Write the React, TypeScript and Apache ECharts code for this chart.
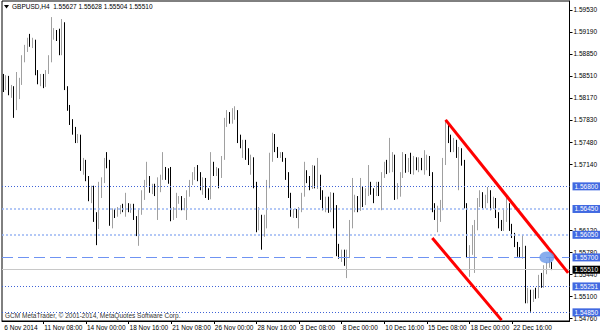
import React, { useEffect, useRef } from "react";
import * as echarts from "echarts";

const symbolName = "GBPUSD,H4";

const opens = [
  1.5848, 1.5832, 1.5848, 1.5826, 1.5832, 1.5801, 1.5820, 1.5841, 1.5876, 1.5894,
  1.5903, 1.5899, 1.5903, 1.5855, 1.5845, 1.5851, 1.5838, 1.5857, 1.5879, 1.5913,
  1.5919, 1.5910, 1.5891, 1.5928, 1.5832, 1.5801, 1.5780, 1.5764, 1.5752, 1.5756,
  1.5708, 1.5719, 1.5693, 1.5662, 1.5677, 1.5631, 1.5619, 1.5677, 1.5690, 1.5718,
  1.5713, 1.5625, 1.5640, 1.5636, 1.5643, 1.5648, 1.5643, 1.5651, 1.5643, 1.5650,
  1.5631, 1.5609, 1.5643, 1.5667, 1.5687, 1.5693, 1.5674, 1.5681, 1.5671, 1.5679,
  1.5694, 1.5705, 1.5696, 1.5687, 1.5631, 1.5637, 1.5659, 1.5662, 1.5648, 1.5659,
  1.5667, 1.5687, 1.5696, 1.5705, 1.5693, 1.5682, 1.5690, 1.5665, 1.5664, 1.5702,
  1.5699, 1.5705, 1.5696, 1.5724, 1.5777, 1.5786, 1.5780, 1.5792, 1.5795, 1.5752,
  1.5744, 1.5749, 1.5729, 1.5718, 1.5721, 1.5682, 1.5615, 1.5628, 1.5609, 1.5625,
  1.5682, 1.5721, 1.5755, 1.5736, 1.5727, 1.5730, 1.5722, 1.5694, 1.5667, 1.5637,
  1.5642, 1.5637, 1.5645, 1.5667, 1.5698, 1.5690, 1.5679, 1.5693, 1.5681, 1.5693,
  1.5662, 1.5646, 1.5659, 1.5643, 1.5665, 1.5620, 1.5578, 1.5572, 1.5577, 1.5563,
  1.5574, 1.5620, 1.5651, 1.5662, 1.5646, 1.5674, 1.5659, 1.5671, 1.5682, 1.5671,
  1.5668, 1.5684, 1.5670, 1.5698, 1.5713, 1.5704, 1.5716, 1.5724, 1.5662, 1.5681,
  1.5698, 1.5725, 1.5705, 1.5721, 1.5702, 1.5721, 1.5710, 1.5721, 1.5712, 1.5721,
  1.5724, 1.5699, 1.5646, 1.5634, 1.5643, 1.5654, 1.5718, 1.5770, 1.5752, 1.5739,
  1.5747, 1.5729, 1.5736, 1.5716, 1.5651, 1.5572, 1.5582, 1.5612, 1.5615, 1.5656,
  1.5668, 1.5651, 1.5662, 1.5671, 1.5646, 1.5659, 1.5636, 1.5620, 1.5614, 1.5640,
  1.5651, 1.5615, 1.5603, 1.5589, 1.5583, 1.5572, 1.5585, 1.5504, 1.5515, 1.5507,
  1.5515, 1.5510, 1.5535, 1.5526, 1.5554, 1.5561, 1.55627,
];

const highs = [
  1.5854, 1.5852, 1.5851, 1.5837, 1.5835, 1.5857, 1.5848, 1.5883, 1.5899, 1.5910,
  1.5916, 1.5910, 1.5907, 1.5860, 1.5854, 1.5854, 1.5860, 1.5883, 1.5942, 1.5925,
  1.5922, 1.5924, 1.5939, 1.5934, 1.5835, 1.5806, 1.5784, 1.5772, 1.5761, 1.5760,
  1.5724, 1.5721, 1.5696, 1.5681, 1.5681, 1.5640, 1.5687, 1.5694, 1.5724, 1.5733,
  1.5721, 1.5646, 1.5645, 1.5648, 1.5651, 1.5653, 1.5670, 1.5654, 1.5653, 1.5653,
  1.5634, 1.5646, 1.5674, 1.5690, 1.5718, 1.5696, 1.5684, 1.5684, 1.5694, 1.5698,
  1.5733, 1.5710, 1.5708, 1.5710, 1.5648, 1.5670, 1.5665, 1.5665, 1.5662, 1.5674,
  1.5690, 1.5702, 1.5710, 1.5713, 1.5702, 1.5694, 1.5693, 1.5677, 1.5733, 1.5718,
  1.5710, 1.5708, 1.5727, 1.5786, 1.5798, 1.5795, 1.5801, 1.5804, 1.5798, 1.5760,
  1.5752, 1.5752, 1.5739, 1.5729, 1.5725, 1.5687, 1.5648, 1.5636, 1.5636, 1.5690,
  1.5732, 1.5763, 1.5761, 1.5741, 1.5733, 1.5733, 1.5724, 1.5702, 1.5670, 1.5645,
  1.5645, 1.5648, 1.5670, 1.5718, 1.5705, 1.5696, 1.5713, 1.5712, 1.5724, 1.5698,
  1.5674, 1.5664, 1.5664, 1.5671, 1.5670, 1.5651, 1.5591, 1.5582, 1.5582, 1.5582,
  1.5628, 1.5693, 1.5667, 1.5665, 1.5693, 1.5679, 1.5677, 1.5713, 1.5687, 1.5677,
  1.5687, 1.5687, 1.5702, 1.5718, 1.5721, 1.5755, 1.5733, 1.5729, 1.5685, 1.5702,
  1.5733, 1.5730, 1.5724, 1.5732, 1.5727, 1.5725, 1.5725, 1.5724, 1.5736, 1.5729,
  1.5727, 1.5702, 1.5654, 1.5650, 1.5659, 1.5724, 1.5783, 1.5775, 1.5760, 1.5755,
  1.5752, 1.5741, 1.5739, 1.5721, 1.5654, 1.5589, 1.5620, 1.5628, 1.5662, 1.5674,
  1.5671, 1.5667, 1.5679, 1.5674, 1.5664, 1.5662, 1.5640, 1.5628, 1.5646, 1.5662,
  1.5654, 1.5622, 1.5608, 1.5594, 1.5586, 1.5605, 1.5588, 1.5523, 1.5520, 1.5520,
  1.5523, 1.5543, 1.5546, 1.5558, 1.5563, 1.5571, 1.55628,
];

const lows = [
  1.5826, 1.5829, 1.5821, 1.5817, 1.5786, 1.5798, 1.5815, 1.5837, 1.5872, 1.5888,
  1.5896, 1.5894, 1.5852, 1.5838, 1.5835, 1.5832, 1.5834, 1.5854, 1.5872, 1.5907,
  1.5905, 1.5883, 1.5883, 1.5829, 1.5797, 1.5775, 1.5760, 1.5747, 1.5747, 1.5704,
  1.5698, 1.5688, 1.5657, 1.5654, 1.5625, 1.5589, 1.5614, 1.5662, 1.5685, 1.5708,
  1.5619, 1.5615, 1.5631, 1.5633, 1.5637, 1.5640, 1.5633, 1.5640, 1.5639, 1.5628,
  1.5603, 1.5588, 1.5636, 1.5659, 1.5681, 1.5670, 1.5668, 1.5665, 1.5628, 1.5671,
  1.5690, 1.5690, 1.5684, 1.5626, 1.5628, 1.5631, 1.5653, 1.5643, 1.5643, 1.5628,
  1.5664, 1.5682, 1.5690, 1.5688, 1.5674, 1.5667, 1.5662, 1.5659, 1.5660, 1.5696,
  1.5696, 1.5677, 1.5693, 1.5721, 1.5772, 1.5777, 1.5777, 1.5783, 1.5747, 1.5739,
  1.5724, 1.5721, 1.5713, 1.5698, 1.5677, 1.5609, 1.5612, 1.5582, 1.5602, 1.5615,
  1.5677, 1.5718, 1.5733, 1.5724, 1.5724, 1.5718, 1.5690, 1.5662, 1.5633, 1.5631,
  1.5631, 1.5615, 1.5640, 1.5664, 1.5685, 1.5674, 1.5676, 1.5677, 1.5676, 1.5659,
  1.5643, 1.5640, 1.5639, 1.5640, 1.5615, 1.5572, 1.5568, 1.5563, 1.5557, 1.5538,
  1.5569, 1.5615, 1.5640, 1.5640, 1.5642, 1.5648, 1.5651, 1.5665, 1.5667, 1.5654,
  1.5665, 1.5665, 1.5643, 1.5693, 1.5699, 1.5701, 1.5702, 1.5659, 1.5660, 1.5664,
  1.5693, 1.5701, 1.5702, 1.5699, 1.5698, 1.5705, 1.5702, 1.5705, 1.5698, 1.5705,
  1.5696, 1.5640, 1.5628, 1.5609, 1.5625, 1.5643, 1.5713, 1.5747, 1.5733, 1.5733,
  1.5724, 1.5674, 1.5712, 1.5646, 1.5569, 1.5540, 1.5574, 1.5546, 1.5612, 1.5648,
  1.5646, 1.5646, 1.5654, 1.5643, 1.5645, 1.5631, 1.5615, 1.5611, 1.5611, 1.5625,
  1.5611, 1.5600, 1.5586, 1.5571, 1.5569, 1.5568, 1.5499, 1.5499, 1.5486, 1.5501,
  1.5506, 1.5507, 1.5523, 1.5523, 1.5544, 1.5554, 1.55504,
];

const closes = [
  1.5832, 1.5848, 1.5826, 1.5832, 1.5801, 1.5820, 1.5841, 1.5876, 1.5894, 1.5903,
  1.5899, 1.5903, 1.5855, 1.5845, 1.5851, 1.5838, 1.5857, 1.5879, 1.5913, 1.5919,
  1.5910, 1.5891, 1.5928, 1.5832, 1.5801, 1.5780, 1.5764, 1.5752, 1.5756, 1.5708,
  1.5719, 1.5693, 1.5662, 1.5677, 1.5631, 1.5619, 1.5677, 1.5690, 1.5718, 1.5713,
  1.5625, 1.5640, 1.5636, 1.5643, 1.5648, 1.5643, 1.5651, 1.5643, 1.5650, 1.5631,
  1.5609, 1.5643, 1.5667, 1.5687, 1.5693, 1.5674, 1.5681, 1.5671, 1.5679, 1.5694,
  1.5705, 1.5696, 1.5687, 1.5631, 1.5637, 1.5659, 1.5662, 1.5648, 1.5659, 1.5667,
  1.5687, 1.5696, 1.5705, 1.5693, 1.5682, 1.5690, 1.5665, 1.5664, 1.5702, 1.5699,
  1.5705, 1.5696, 1.5724, 1.5777, 1.5786, 1.5780, 1.5792, 1.5795, 1.5752, 1.5744,
  1.5749, 1.5729, 1.5718, 1.5721, 1.5682, 1.5615, 1.5628, 1.5609, 1.5625, 1.5682,
  1.5721, 1.5755, 1.5736, 1.5727, 1.5730, 1.5722, 1.5694, 1.5667, 1.5637, 1.5642,
  1.5637, 1.5645, 1.5667, 1.5698, 1.5690, 1.5679, 1.5693, 1.5681, 1.5693, 1.5662,
  1.5646, 1.5659, 1.5643, 1.5665, 1.5620, 1.5578, 1.5572, 1.5577, 1.5563, 1.5574,
  1.5620, 1.5651, 1.5662, 1.5646, 1.5674, 1.5659, 1.5671, 1.5682, 1.5671, 1.5668,
  1.5684, 1.5670, 1.5698, 1.5713, 1.5704, 1.5716, 1.5724, 1.5662, 1.5681, 1.5698,
  1.5725, 1.5705, 1.5721, 1.5702, 1.5721, 1.5710, 1.5721, 1.5712, 1.5721, 1.5724,
  1.5699, 1.5646, 1.5634, 1.5643, 1.5654, 1.5718, 1.5770, 1.5752, 1.5739, 1.5747,
  1.5729, 1.5736, 1.5716, 1.5651, 1.5572, 1.5582, 1.5612, 1.5615, 1.5656, 1.5668,
  1.5651, 1.5662, 1.5671, 1.5646, 1.5659, 1.5636, 1.5620, 1.5614, 1.5640, 1.5651,
  1.5615, 1.5603, 1.5589, 1.5583, 1.5572, 1.5585, 1.5504, 1.5515, 1.5507, 1.5515,
  1.5510, 1.5535, 1.5526, 1.5554, 1.5561, 1.5563, 1.5551,
];

const chartShiftBars = 6;
const timeTickIndex = [0, 15, 31, 47, 63, 79, 95, 111, 127, 143, 159, 175, 191];
const timeTickLabels = [
  "6 Nov 2014", "11 Nov 08:00", "14 Nov 00:00", "18 Nov 16:00", "21 Nov 08:00",
  "26 Nov 00:00", "28 Nov 16:00", "3 Dec 08:00", "8 Dec 00:00", "10 Dec 16:00",
  "15 Dec 08:00", "18 Dec 00:00", "22 Dec 16:00",
];
const priceTickValues = [
  1.5953, 1.5919, 1.5885, 1.5851, 1.5817, 1.5783, 1.5748, 1.5714,
  1.5612, 1.5578, 1.5544, 1.551, 1.5476,
];
const priceMin = 1.54716;
const priceMax = 1.59669;
const strongLevels = [1.568, 1.55251, 1.5485];
const softLevels = [1.5645, 1.5605];
const dashedLevel = 1.557;
const upperChannel = [[166, 1.5783], [212, 1.5546]];
const lowerChannel = [[161, 1.56], [187, 1.5473]];
const markerPoint = [204, 1.557];
const copyrightText = "GCM MetaTrader, \u00a9 2001-2014, MetaQuotes Software Corp.";

export default function App() {
  const ref = useRef<HTMLDivElement>(null);
  useEffect(() => {
    const chart = echarts.init(ref.current as HTMLDivElement, null, { renderer: "svg" });
    const n = opens.length;
    const last = n - 1;
    const categories = Array.from({ length: n + chartShiftBars }, (_, i) => String(i));
    const candles = opens.map((o, i) => [o, closes[i], lows[i], highs[i]]);
    const bid = closes[last];
    const font = "'Liberation Sans', Arial, sans-serif";
    const fs = 6.5;
    const boxLabel = (bg: string) => ({
      show: true,
      position: "end",
      distance: 3,
      formatter: (p: any) => Number(p.value).toFixed(5),
      backgroundColor: bg,
      color: "#fff",
      fontSize: fs,
      fontFamily: font,
      padding: [1, 2, 0, 2],
      lineHeight: 7,
    });
    const header =
      symbolName + "  " +
      [opens[last], highs[last], lows[last], closes[last]].map((v) => v.toFixed(5)).join(" ");

    const option: any = {
      animation: false,
      backgroundColor: "#fff",
      grid: { left: 2, right: 29, top: 1, bottom: 12, show: true, borderColor: "#000", borderWidth: 1 },
      xAxis: {
        type: "category",
        data: categories,
        boundaryGap: true,
        axisLine: { show: true, lineStyle: { color: "#000", width: 1 } },
        axisTick: {
          show: true,
          alignWithLabel: true,
          length: 3,
          interval: (index: number) => index > 0 && timeTickIndex.includes(index),
          lineStyle: { color: "#000" },
        },
        axisLabel: {
          interval: (index: number) => timeTickIndex.includes(index),
          formatter: (_v: string, idx: number) => {
            const k = timeTickIndex.indexOf(idx);
            return k >= 0 ? timeTickLabels[k] : "";
          },
          align: "left",
          padding: [0, 0, 0, 1],
          margin: 3,
          fontSize: fs,
          fontFamily: font,
          color: "#000",
        },
        splitLine: { show: false },
      },
      yAxis: {
        type: "value",
        position: "right",
        min: priceMin,
        max: priceMax,
        scale: true,
        splitLine: { show: false },
        axisLine: { show: true, lineStyle: { color: "#000", width: 1 } },
        axisTick: { show: true, length: 3, customValues: priceTickValues, lineStyle: { color: "#000" } },
        axisLabel: {
          customValues: priceTickValues,
          formatter: (v: number) => v.toFixed(5),
          fontSize: fs,
          fontFamily: font,
          color: "#000",
          margin: 4,
        },
      },
      graphic: [
        { type: "polygon", shape: { points: [[4, 5], [9, 5], [6.5, 8.5]] }, style: { fill: "#000" } },
        {
          type: "text",
          left: 12,
          top: 3,
          style: { text: header, fill: "#000", font: `${fs}px ${font}` },
        },
        {
          type: "text",
          left: 5,
          top: 312,
          style: { text: copyrightText, fill: "#333", font: `${fs}px ${font}` },
        },
      ],
      series: [
        {
          type: "candlestick",
          data: candles,
          barWidth: 1,
          itemStyle: {
            color: "#a0a0a0",
            color0: "#000",
            borderColor: "#a0a0a0",
            borderColor0: "#000",
            borderWidth: 1,
          },
          markLine: {
            silent: true,
            animation: false,
            precision: 5,
            symbol: ["none", "none"],
            data: [
              ...strongLevels.map((v) => ({
                yAxis: v,
                lineStyle: { color: "#3f63d6", type: [1, 2], width: 1 },
                label: boxLabel("#4169e1"),
              })),
              ...softLevels.map((v) => ({
                yAxis: v,
                lineStyle: { color: "#9bb6f4", type: [2, 2], width: 1.6 },
                label: boxLabel("#4169e1"),
              })),
              {
                yAxis: dashedLevel,
                lineStyle: { color: "#6f93f2", type: [11, 5], width: 1.2 },
                label: boxLabel("#4169e1"),
              },
              {
                yAxis: bid,
                lineStyle: { color: "#c8c8c8", type: "solid", width: 1 },
                label: boxLabel("#000"),
              },
              [
                { coord: upperChannel[0], lineStyle: { color: "#ff0000", width: 3, type: "solid" }, label: { show: false } },
                { coord: upperChannel[1] },
              ],
              [
                { coord: lowerChannel[0], lineStyle: { color: "#ff0000", width: 3, type: "solid" }, label: { show: false } },
                { coord: lowerChannel[1] },
              ],
            ],
          },
        },
        {
          type: "scatter",
          data: [markerPoint],
          symbol: "circle",
          symbolSize: [15, 12],
          itemStyle: { color: "#6a98e8" },
          silent: true,
          z: 5,
        },
      ],
    };
    chart.setOption(option);
    return () => chart.dispose();
  }, []);
  return <div ref={ref} style={{ position: "fixed", left: 0, top: 0, width: 600, height: 333 }} />;
}
